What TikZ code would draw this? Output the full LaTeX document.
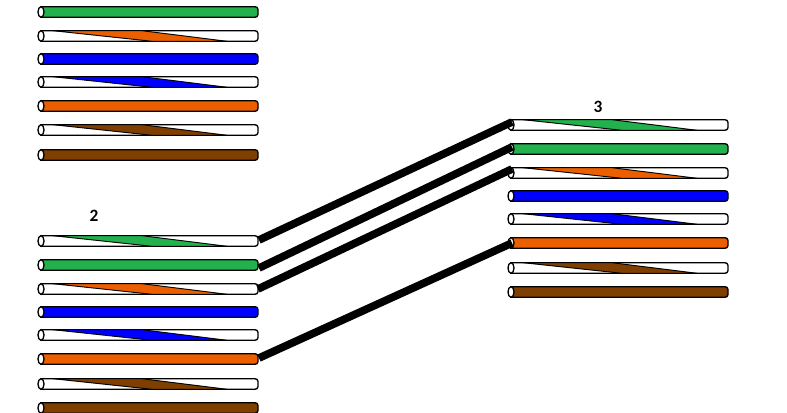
\documentclass[tikz,border=0pt]{standalone}
\usepackage{fontspec}
\setmainfont{Carlito}
\definecolor{wiregreen}{HTML}{22B14C}
\definecolor{wireorange}{HTML}{EC5F00}
\definecolor{wireblue}{HTML}{0000FF}
\definecolor{wirebrown}{HTML}{7F3F00}
\tikzset{
    wireline/.style={line width=1pt, black},
    link/.style={line width=5.8pt, black},
    tag/.style={font=\fontsize{13}{15}\selectfont\bfseries, inner sep=0pt}
}
% #1 left end, #2 centre height, #3 colour
\newcommand{\wirebody}[3]{
    \draw[wireline, fill=#3] (#1+2,#2-5.3)--(#1+216,#2-5.3) to[out=0, in=90] (#1+219,#2-2.5)--(#1+219,#2+2.5) to[out=-90, in=0] (#1+216,#2+5.3)--(#1+2,#2+5.3)--cycle;
}
\newcommand{\solidwire}[3]{
    \wirebody{#1}{#2}{#3}
    \draw[wireline, fill=white] (#1+2,#2) ellipse (3 and 5.3);
}
\newcommand{\stripewire}[3]{
    \wirebody{#1}{#2}{white}
    \draw[line width=0.7pt, fill=#3] (#1+14,#2-5.3)--(#1+103,#2-5.3)--(#1+188,#2+5.3)--(#1+113,#2+5.3)--cycle;
    \draw[wireline, fill=white] (#1+2,#2) ellipse (3 and 5.3);
}
\begin{document}
\begin{tikzpicture}[x=0.75pt, y=-0.75pt]
    \useasboundingbox (0,0) rectangle (787,413);

    \solidwire{39}{12}{wiregreen}
    \stripewire{39}{36}{wireorange}
    \solidwire{39}{59}{wireblue}
    \stripewire{39}{82}{wireblue}
    \solidwire{39}{106}{wireorange}
    \stripewire{39}{130}{wirebrown}
    \solidwire{39}{155}{wirebrown}

    \stripewire{39}{241}{wiregreen}
    \solidwire{39}{265}{wiregreen}
    \stripewire{39}{289}{wireorange}
    \solidwire{39}{312}{wireblue}
    \stripewire{39}{335}{wireblue}
    \solidwire{39}{359}{wireorange}
    \stripewire{39}{384}{wirebrown}
    \solidwire{39}{408}{wirebrown}

    \stripewire{509}{125}{wiregreen}
    \solidwire{509}{149}{wiregreen}
    \stripewire{509}{173}{wireorange}
    \solidwire{509}{196}{wireblue}
    \stripewire{509}{219}{wireblue}
    \solidwire{509}{243}{wireorange}
    \stripewire{509}{268}{wirebrown}
    \solidwire{509}{292}{wirebrown}

    \coordinate (L1) at (259,240);
    \coordinate (L2) at (259,268);
    \coordinate (L3) at (258,289);
    \coordinate (L6) at (259,358);
    \coordinate (R1) at (512,122);
    \coordinate (R2) at (512,147);
    \coordinate (R3) at (512,169);
    \coordinate (R6) at (512,243);

    \draw[link] (L1)--(R1);
    \draw[link] (L2)--(R2);
    \draw[link] (L3)--(R3);
    \draw[link] (L6)--(R6);

    \node[tag] (two) at (94,216) {2};
    \node[tag] (three) at (598,107) {3};
\end{tikzpicture}
\end{document}
